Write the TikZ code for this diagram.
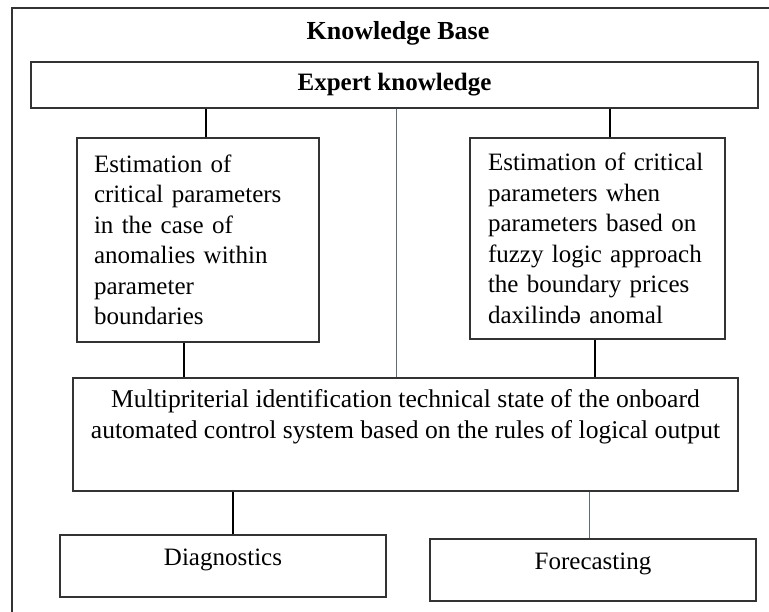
\documentclass[tikz,border=0pt]{standalone}
\usepackage{fontspec}
\setmainfont{Liberation Serif}
\usepackage{tikz}
\definecolor{edge}{HTML}{333333}
\definecolor{slate}{HTML}{5F6B78}
\tikzset{
  box/.style={draw=edge, line width=1.3pt, rectangle, inner sep=0pt},
  wire/.style={-, color=black, line width=1.2pt},
  thinwire/.style={-, color=slate, line width=0.9pt},
  body/.style={font=\fontsize{25}{30.5}\selectfont},
  heading/.style={font=\fontsize{26}{30}\selectfont\bfseries}
}
\newcommand{\connect}[4][wire]{
  \draw [#1] (#2.south -| #4,0) to (#3.north -| #4,0)
}

\begin{document}
\begin{tikzpicture}[x=1pt,y=-1pt]
\useasboundingbox (0,0) rectangle (769,611);

% outer frame, runs off the page right and bottom
\draw [box] (12,8) rectangle (800,650);

% title
\node [heading] (kb) at (398,33) {Knowledge Base};

% top layer
\node [box, heading, font=\fontsize{25}{30}\selectfont\bfseries,
       minimum width=727pt, minimum height=46pt] (expert) at (394.5,85) {Expert knowledge};

% estimation boxes
\node [box, body, align=left, text width=208pt, inner xsep=17pt,
       minimum height=204pt] (inside) at (198,240)
  {Estimation of\\critical parameters\\in the case of\\anomalies within\\parameter\\boundaries};
\node [box, body, align=left, text width=219pt, inner xsep=18pt,
       minimum height=201pt] (fuzzy) at (597.5,238.5)
  {Estimation of critical\\parameters when\\parameters based on\\fuzzy logic  approach\\the boundary prices\\daxilind\symbol{"0259} anomal};

% identification
\node [box, body, font=\fontsize{25.6}{31}\selectfont, align=center,
       minimum width=665pt, minimum height=113pt] (multi) at (405.5,434.5)
  {Multipriterial identification technical state of the onboard\\automated control system based on the rules of logical output\\ \strut};

% results
\node [box, body, minimum width=326pt, minimum height=62pt, text depth=17pt] (diag) at (223,566) {Diagnostics};
\node [box, body, minimum width=326pt, minimum height=62pt, text depth=17pt] (fore) at (593,570) {Forecasting};

% connect expert
\connect {expert} {inside} {206};
\connect {expert} {fuzzy} {610};
\connect [thinwire] {expert} {multi} {396};

% connect estimations
\connect {inside} {multi} {184};
\connect {fuzzy} {multi} {595};

% connect multi
\connect {multi} {diag} {233};
\connect [thinwire] {multi} {fore} {589};

\end{tikzpicture}
\end{document}
